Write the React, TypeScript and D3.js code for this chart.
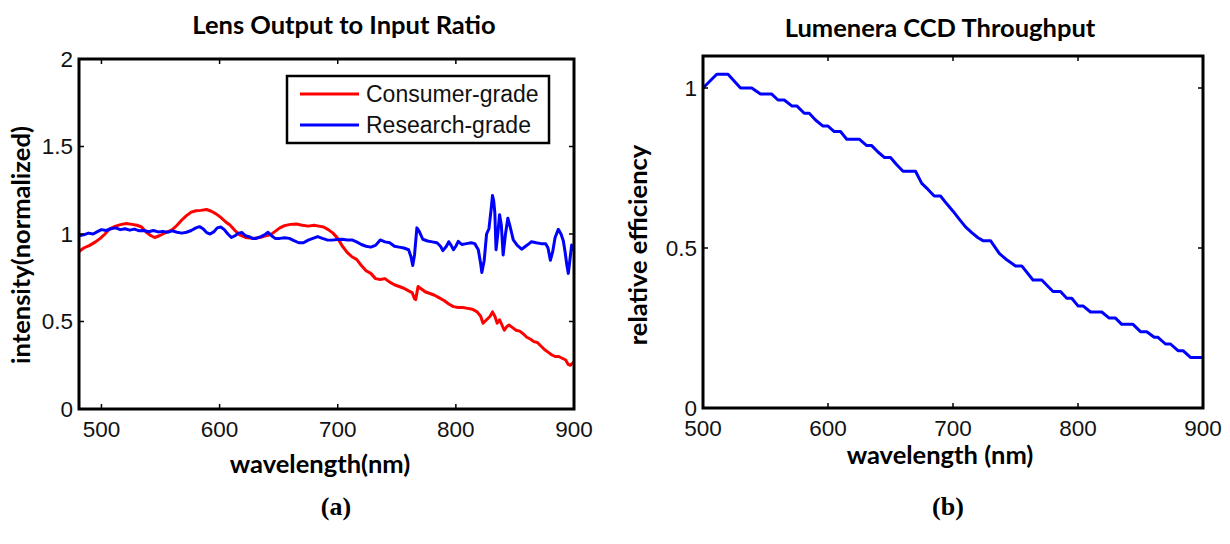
import React from "react";
import * as d3 from "d3";

// Panel (a): lens output / input ratio, [wavelength nm, normalized intensity]
const consumerGrade: [number, number][] = [
  [481, 0.9], [485, 0.92], [490, 0.935], [495, 0.955], [499, 0.975], [503, 1.0], [507, 1.03],
  [512, 1.045], [517, 1.055], [521, 1.06], [526, 1.055], [530, 1.05], [534, 1.04], [538, 1.01],
  [542, 0.99], [545, 0.98], [549, 0.99], [552, 1.0], [555, 1.01], [560, 1.025], [564, 1.05],
  [568, 1.08], [572, 1.105], [576, 1.125], [580, 1.133], [584, 1.135], [589, 1.14], [593, 1.13],
  [597, 1.115], [601, 1.095], [605, 1.07], [609, 1.05], [613, 1.02], [617, 0.995], [622, 0.98],
  [628, 0.975], [634, 0.98], [639, 0.99], [643, 0.995], [647, 1.015], [651, 1.035], [655, 1.048],
  [660, 1.055], [665, 1.057], [670, 1.05], [675, 1.045], [680, 1.05], [684, 1.045], [688, 1.04],
  [692, 1.025], [696, 1.005], [700, 0.975], [704, 0.93], [708, 0.895], [712, 0.87], [716, 0.855],
  [720, 0.82], [724, 0.79], [728, 0.775], [732, 0.745], [736, 0.74], [740, 0.745], [744, 0.725],
  [748, 0.71], [752, 0.7], [756, 0.69], [760, 0.675], [763, 0.665], [765, 0.63], [766, 0.625],
  [768, 0.7], [770, 0.69], [774, 0.67], [778, 0.66], [782, 0.65], [786, 0.635], [790, 0.62],
  [794, 0.6], [798, 0.585], [802, 0.58], [806, 0.58], [810, 0.575], [814, 0.57], [818, 0.555],
  [821, 0.53], [823, 0.49], [826, 0.51], [829, 0.53], [831, 0.555], [833, 0.53], [835, 0.49],
  [837, 0.51], [839, 0.48], [841, 0.45], [843, 0.47], [845, 0.48], [848, 0.465], [851, 0.45],
  [854, 0.445], [857, 0.43], [860, 0.41], [863, 0.4], [866, 0.385], [869, 0.38], [872, 0.36],
  [875, 0.34], [878, 0.325], [881, 0.31], [884, 0.3], [887, 0.3], [890, 0.29], [893, 0.28],
  [895, 0.255], [897, 0.25], [900, 0.27],
];

const researchGrade: [number, number][] = [
  [481, 0.99], [485, 0.995], [489, 1.005], [493, 1.0], [497, 1.015], [500, 1.025], [504, 1.02],
  [508, 1.03], [512, 1.035], [516, 1.025], [520, 1.03], [524, 1.022], [528, 1.028], [532, 1.018],
  [536, 1.02], [540, 1.013], [544, 1.02], [548, 1.012], [552, 1.015], [556, 1.01], [560, 1.018],
  [564, 1.01], [568, 1.005], [572, 1.01], [576, 1.02], [580, 1.035], [583, 1.042], [586, 1.03],
  [589, 1.008], [592, 1.0], [595, 1.012], [598, 1.035], [601, 1.04], [604, 1.025], [607, 1.0],
  [610, 0.98], [613, 0.99], [616, 1.005], [619, 1.008], [622, 0.99], [625, 0.985], [628, 0.975],
  [631, 0.975], [635, 0.985], [638, 0.995], [641, 1.01], [644, 0.99], [647, 0.975], [651, 0.975],
  [655, 0.978], [659, 0.975], [663, 0.962], [667, 0.95], [671, 0.95], [675, 0.965], [679, 0.975],
  [683, 0.985], [687, 0.975], [691, 0.966], [695, 0.965], [700, 0.968], [704, 0.97], [708, 0.966],
  [712, 0.966], [716, 0.955], [720, 0.94], [724, 0.93], [728, 0.925], [732, 0.935], [736, 0.966],
  [740, 0.955], [744, 0.95], [748, 0.93], [752, 0.925], [756, 0.92], [760, 0.91], [762, 0.87],
  [763.5, 0.82], [765, 0.88], [767, 1.035], [769, 1.015], [772, 0.97], [776, 0.96], [780, 0.955],
  [784, 0.95], [787, 0.93], [789, 0.905], [792, 0.93], [794, 0.956], [796, 0.935], [798, 0.91],
  [800, 0.93], [802, 0.958], [805, 0.94], [809, 0.945], [813, 0.95], [816, 0.945], [819, 0.91],
  [821, 0.83], [822, 0.78], [824, 0.85], [826, 1.0], [828, 1.03], [830, 1.15], [831, 1.22],
  [832, 1.19], [833, 1.12], [834, 0.91], [835.5, 1.0], [837, 1.11], [838.5, 1.05], [840, 0.88],
  [842, 1.0], [844, 1.09], [846, 1.04], [848.6, 0.966], [852, 0.935], [855.7, 0.913], [859, 0.93],
  [862, 0.945], [864, 0.956], [868, 0.95], [872, 0.945], [876, 0.945], [878, 0.92], [880, 0.85],
  [882, 0.9], [884, 0.98], [886.7, 1.027], [889, 1.0], [891, 0.96], [892.4, 0.9], [894, 0.82],
  [895.2, 0.775], [896.5, 0.85], [898, 0.937], [900, 0.905],
];

// Panel (b): CCD relative efficiency, [wavelength nm, relative efficiency]
const ccdThroughput: [number, number][] = [
  [500, 1.0], [511, 1.043], [520, 1.043], [530, 1.0], [539, 1.0], [546, 0.981], [555, 0.981],
  [560, 0.9625], [565, 0.9625], [571, 0.944], [575, 0.944], [581, 0.921], [585, 0.921], [590, 0.9],
  [596, 0.881], [600, 0.881], [605, 0.864], [610, 0.864], [615, 0.84], [625, 0.84], [631, 0.82],
  [635, 0.82], [640, 0.8], [645, 0.783], [650, 0.783], [655, 0.76], [660, 0.74], [670, 0.74],
  [675, 0.702], [680, 0.683], [685, 0.6625], [690, 0.6625], [695, 0.638], [700, 0.615],
  [705, 0.59], [710, 0.566], [715, 0.548], [720, 0.532], [724, 0.523], [730, 0.523], [737, 0.483],
  [743, 0.463], [750, 0.444], [755, 0.444], [764, 0.4], [771, 0.4], [780, 0.364], [786, 0.364],
  [791, 0.343], [795, 0.343], [800, 0.319], [804, 0.319], [810, 0.3], [819, 0.3], [825, 0.281],
  [830, 0.281], [835, 0.2615], [844, 0.2615], [850, 0.2385], [855, 0.2385], [861, 0.221],
  [864, 0.221], [870, 0.2], [874, 0.2], [880, 0.179], [884, 0.179], [890, 0.158], [900, 0.158],
];

const wavelengthTicks = [500, 600, 700, 800, 900];
const ratioTicks = [0, 0.5, 1, 1.5, 2];
const efficiencyTicks = [0, 0.5, 1];
const seriesNames = ["Consumer-grade", "Research-grade"];
const seriesColors = ["#ff0000", "#0000ff"];

const LABEL_FONT = "Lato, 'Open Sans', sans-serif";
const LABEL_SIZE = 25.5;
const TICK_FONT = "'Liberation Sans', Arial, sans-serif";
const SERIF_FONT = "'Liberation Serif', 'Times New Roman', serif";
const TICK_LEN = 5;

type Scale = d3.ScaleLinear<number, number>;

function Frame({ x, y, xTicks, yTicks, yFmt }: { x: Scale; y: Scale; xTicks: number[]; yTicks: number[]; yFmt: (v: number) => string }) {
  const [x0, x1] = x.range();
  const [y0, y1] = y.range(); // y0 bottom, y1 top
  return (
    <g>
      {xTicks.map((t) => (
        <g key={"x" + t}>
          <line x1={x(t)} x2={x(t)} y1={y0} y2={y0 - TICK_LEN} stroke="#000" strokeWidth={1.5} />
          <line x1={x(t)} x2={x(t)} y1={y1} y2={y1 + TICK_LEN} stroke="#000" strokeWidth={1.5} />
          <text x={x(t)} y={y0 + 28} textAnchor="middle" fontFamily={TICK_FONT} fontSize={22.5} fill="#111">
            {t}
          </text>
        </g>
      ))}
      {yTicks.map((t) => (
        <g key={"y" + t}>
          <line x1={x0} x2={x0 + TICK_LEN} y1={y(t)} y2={y(t)} stroke="#000" strokeWidth={1.5} />
          <line x1={x1} x2={x1 - TICK_LEN} y1={y(t)} y2={y(t)} stroke="#000" strokeWidth={1.5} />
          <text x={x0 - 6} y={y(t) + 7.5} textAnchor="end" fontFamily={TICK_FONT} fontSize={22.5} fill="#111">
            {yFmt(t)}
          </text>
        </g>
      ))}
      <rect x={x0} y={y1} width={x1 - x0} height={y0 - y1} fill="none" stroke="#000" strokeWidth={3} />
    </g>
  );
}

export default function App() {
  const xL = d3.scaleLinear().domain([481, 900]).range([79, 574]);
  const yL = d3.scaleLinear().domain([0, 2]).range([409, 59]);
  const xR = d3.scaleLinear().domain([500, 900]).range([703, 1203]);
  const yR = d3.scaleLinear().domain([0, 1.1]).range([408, 56]);

  const lineL = d3.line<[number, number]>().x((d) => xL(d[0])).y((d) => yL(d[1]));
  const lineR = d3.line<[number, number]>().x((d) => xR(d[0])).y((d) => yR(d[1]));
  const fmt = (v: number) => d3.format("~g")(v);

  const leftSeries = [consumerGrade, researchGrade];

  return (
    <svg width={1230} height={544} style={{ position: "absolute", left: 0, top: 0, background: "#fff" }}>
      <defs>
        <clipPath id="clipL">
          <rect x={79} y={59} width={495} height={350} />
        </clipPath>
        <clipPath id="clipR">
          <rect x={703} y={56} width={500} height={352} />
        </clipPath>
      </defs>
      <rect width={1230} height={544} fill="#fff" />

      {/* Panel (a) */}
      <text x={344} y={34} textAnchor="middle" fontFamily={LABEL_FONT} fontWeight="bold" fontSize={LABEL_SIZE}>
        Lens Output to Input Ratio
      </text>
      <g clipPath="url(#clipL)">
        {leftSeries.map((s, i) => (
          <path key={i} d={lineL(s) ?? ""} fill="none" stroke={seriesColors[i]} strokeWidth={3} strokeLinejoin="round" />
        ))}
      </g>
      <Frame x={xL} y={yL} xTicks={wavelengthTicks} yTicks={ratioTicks} yFmt={fmt} />
      <g>
        <rect x={287} y={76} width={262} height={67} fill="#fff" stroke="#000" strokeWidth={2.5} />
        {seriesNames.map((name, i) => (
          <g key={name}>
            <line x1={300} x2={359} y1={94 + i * 31} y2={94 + i * 31} stroke={seriesColors[i]} strokeWidth={3} />
            <text x={366} y={102 + i * 31} fontFamily={TICK_FONT} fontSize={23} fill="#111">
              {name}
            </text>
          </g>
        ))}
      </g>
      <text x={320} y={473} textAnchor="middle" fontFamily={LABEL_FONT} fontWeight="bold" fontSize={LABEL_SIZE}>
        wavelength(nm)
      </text>
      <text transform="translate(30,245) rotate(-90)" textAnchor="middle" fontFamily={LABEL_FONT} fontWeight="bold" fontSize={LABEL_SIZE}>
        intensity(normalized)
      </text>
      <text x={336} y={515} textAnchor="middle" fontFamily={SERIF_FONT} fontWeight="bold" fontSize={26}>
        (a)
      </text>

      {/* Panel (b) */}
      <text x={940} y={37} textAnchor="middle" fontFamily={LABEL_FONT} fontWeight="bold" fontSize={LABEL_SIZE}>
        Lumenera CCD Throughput
      </text>
      <g clipPath="url(#clipR)">
        <path d={lineR(ccdThroughput) ?? ""} fill="none" stroke="#0000ff" strokeWidth={3} strokeLinejoin="round" />
      </g>
      <Frame x={xR} y={yR} xTicks={wavelengthTicks} yTicks={efficiencyTicks} yFmt={fmt} />
      <text x={940} y={464} textAnchor="middle" fontFamily={LABEL_FONT} fontWeight="bold" fontSize={LABEL_SIZE}>
        wavelength (nm)
      </text>
      <text transform="translate(647,245) rotate(-90)" textAnchor="middle" fontFamily={LABEL_FONT} fontWeight="bold" fontSize={LABEL_SIZE}>
        relative efficiency
      </text>
      <text x={948} y={515} textAnchor="middle" fontFamily={SERIF_FONT} fontWeight="bold" fontSize={26}>
        (b)
      </text>
    </svg>
  );
}
